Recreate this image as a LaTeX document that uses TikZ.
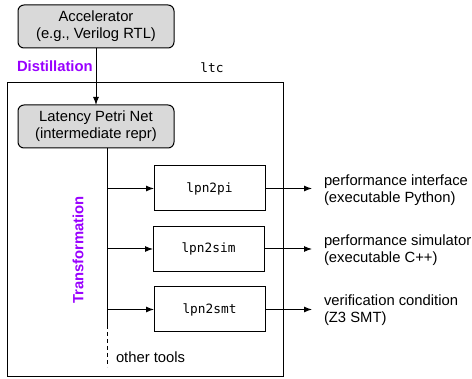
\documentclass[tikz,border=0pt]{standalone}
\usepackage{fontspec}
\setmainfont{Liberation Sans}
\setmonofont{DejaVu Sans Mono}
\usetikzlibrary{arrows.meta}
\definecolor{purp}{HTML}{9900FF}
\definecolor{boxgray}{HTML}{D9D9D9}
\begin{document}
\begin{tikzpicture}[x=1pt,y=-1pt,
  every node/.style={inner sep=0pt, outer sep=0pt},
  base/.style={font=\fontsize{14.8}{17}\selectfont, align=center},
  graybox/.style={base, draw, line width=1pt, rounded corners=6pt, fill=boxgray, minimum width=156pt, minimum height=43pt},
  toolbox/.style={draw, line width=1pt, minimum width=111pt, minimum height=45pt, font=\fontsize{12.8}{15}\selectfont\ttfamily},
  lbl/.style={font=\fontsize{14.8}{17}\selectfont\bfseries, text=purp},
  outtxt/.style={base, align=left, anchor=west},
  conn/.style={line width=1pt},
  arr/.style={line width=1pt, -{Latex[length=8pt,width=6pt]}}
]
\useasboundingbox (0,0) rectangle (472,379);
\node[draw, line width=1pt, minimum width=276pt, minimum height=294pt, anchor=north west] (frame) at (7,83) {};
\node[graybox] (acc) at (96,26.5) {Accelerator\\(e.g., Verilog RTL)};
\node[graybox] (lpn) at (96,126.5) {Latency Petri Net\\(intermediate repr)};
\node[lbl, anchor=west] (dist) at (17,66) {Distillation};
\node[font=\fontsize{12.8}{15}\selectfont\ttfamily] (ltc) at (212,68) {ltc};
\node[toolbox] (pi) at (209.5,188.5) {lpn2pi};
\node[toolbox] (sim) at (208.5,249) {lpn2sim};
\node[toolbox] (smt) at (209.5,309.5) {lpn2smt};
\node[lbl, rotate=90] (trans) at (78,250) {Transformation};
\node[base, anchor=west] (other) at (116,357) {other tools};
\coordinate (ttop) at (107,148);
\coordinate (tmid) at (107,325);
\coordinate (tbot) at (107,367);
\draw[arr] (acc.south) -- (lpn.north);
\draw[conn] (ttop) -- (tmid);
\draw[conn, dashed, dash pattern=on 4pt off 3pt] (tmid) -- (tbot);
\draw[arr] (pi.west -| ttop) -- (pi.west);
\draw[arr] (sim.west -| ttop) -- (sim.west);
\draw[arr] (smt.west -| ttop) -- (smt.west);
\coordinate (o1) at (312,188.5);
\coordinate (o2) at (312,249);
\coordinate (o3) at (312,309.5);
\draw[arr] (pi.east) -- (o1);
\draw[arr] (sim.east) -- (o2);
\draw[arr] (smt.east) -- (o3);
\node[outtxt] (t1) at (324,190) {performance interface\\(executable Python)};
\node[outtxt] (t2) at (324,250) {performance simulator\\(executable C++)};
\node[outtxt] (t3) at (324,310) {verification condition\\(Z3 SMT)};
\end{tikzpicture}
\end{document}
